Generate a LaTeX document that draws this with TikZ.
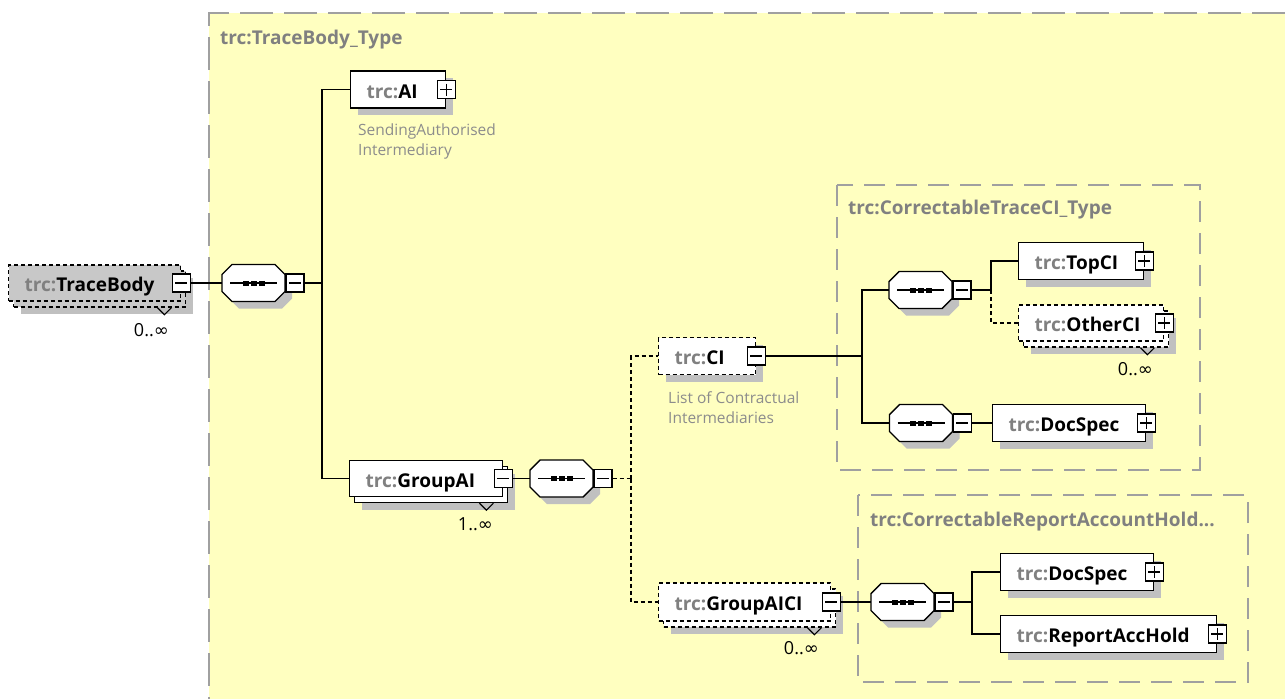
\documentclass[tikz,border=0pt]{standalone}
\usepackage{fontspec}
\setmainfont{Open Sans}
\newfontfamily\symfont{DejaVu Sans}
\usetikzlibrary{shadows}

\definecolor{bgyellow}{RGB}{255,255,192}
\definecolor{framegray}{RGB}{160,160,160}
\definecolor{pfxgray}{RGB}{128,128,128}
\definecolor{notegray}{RGB}{140,140,140}
\definecolor{shadegray}{RGB}{192,192,192}
\definecolor{optgray}{RGB}{200,200,200}

\newcommand\trc{\textcolor{pfxgray}{trc:}}
\newcommand\unb{{\symfont ∞}}

\tikzset{
  elem/.style={draw, line width=1.4pt, fill=white, anchor=west, minimum height=37pt,
    inner xsep=16pt, inner ysep=0pt, align=left, text height=17pt, text depth=0pt,
    font=\fontsize{19}{22}\selectfont\bfseries},
  single/.style={general shadow={shadow xshift=7pt, shadow yshift=-7pt, fill=shadegray, draw=none}},
  stacked/.style={general shadow={shadow xshift=12pt, shadow yshift=-13pt, fill=shadegray, draw=none},
    general shadow={shadow xshift=5pt, shadow yshift=-6pt, fill=#1, draw=black}},
  stacked/.default=white,
  optional/.style={dash pattern=on 4pt off 3pt},
  xbox/.style={draw, line width=1.4pt, fill=white, minimum size=18pt, inner sep=0pt},
  minusbox/.style={xbox, path picture={
    \draw[black, line width=1.2pt] ([xshift=3pt]path picture bounding box.west) -- ([xshift=-3pt]path picture bounding box.east);}},
  plusbox/.style={xbox, path picture={
    \draw[black, line width=1.2pt] ([xshift=3pt]path picture bounding box.west) -- ([xshift=-3pt]path picture bounding box.east);
    \draw[black, line width=1.2pt] ([yshift=-3pt]path picture bounding box.north) -- ([yshift=3pt]path picture bounding box.south);}},
  seq/.pic={
    \fill[shadegray, xshift=7pt, yshift=-7pt] (-31.5,-8.5) -- (-21.5,-18.5) -- (21.5,-18.5) -- (31.5,-8.5)
      -- (31.5,8.5) -- (21.5,18.5) -- (-21.5,18.5) -- (-31.5,8.5) -- cycle;
    \draw[fill=white, line width=1.4pt] (-31.5,-8.5) -- (-21.5,-18.5) -- (21.5,-18.5) -- (31.5,-8.5)
      -- (31.5,8.5) -- (21.5,18.5) -- (-21.5,18.5) -- (-31.5,8.5) -- cycle;
    \draw[line width=1.1pt] (-23.5,0) -- (23.5,0);
    \foreach \d in {-8,0,8}
      \fill (\d-3,-2.5) rectangle (\d+3,2.5);
    \node[minimum width=63pt, minimum height=37pt, inner sep=0pt] (-n) {};
  },
  conn/.style={draw, line width=1.3pt},
  optconn/.style={conn, dash pattern=on 4pt off 3pt},
  frame/.style={draw=framegray, line width=1.5pt, dash pattern=on 21pt off 11pt},
  framelabel/.style={anchor=west, inner sep=0pt, text=pfxgray, font=\fontsize{19}{22}\selectfont\bfseries},
  note/.style={anchor=north west, inner sep=0pt, align=left, text=notegray,
    font=\fontsize{15.5}{20}\selectfont},
  card/.style={inner sep=0pt, font=\fontsize{18}{20}\selectfont},
  notch/.style={draw, line width=1.2pt}
}

\begin{document}
\begin{tikzpicture}[x=1pt, y=-1pt]
  \useasboundingbox (0,0) rectangle (1285,699);

  % type areas
  \fill[bgyellow] (209,13) rectangle (1285,699);
  \draw[frame, dash pattern=on 33pt off 11pt, line width=2pt] (1285,13) -- (209,13) -- (209,699);
  \node[framelabel] (lbl-body) at (220,40) {trc:TraceBody\_Type};
  \draw[frame] (837,185) rectangle (1200,470);
  \node[framelabel] (lbl-ci) at (848,210) {trc:CorrectableTraceCI\_Type};
  \draw[frame] (858,495) rectangle (1248,682);
  \node[framelabel] (lbl-rah) at (870,522) {trc:CorrectableReportAccountHold...};

  % root element
  \node[elem, optional, fill=optgray, stacked=optgray, text width=140pt, minimum height=36pt] (tb) at (8,283) {\trc TraceBody};
  \node[minusbox] (tb-x) at (tb.east) {};
  \draw[notch] ([xshift=-24pt,yshift=-6pt]tb.south east) -- ++(7,7) -- ++(7,-7);
  \node[card] (tb-card) at ([xshift=-30pt,yshift=-28pt]tb.south east) {0..\unb};

  \pic (seq1) at (253.5,283) {seq};
  \node[minusbox, anchor=west] (s1-x) at (seq1-n.east) {};

  % children of TraceBody
  \node[elem, single, text width=63pt] (ai) at (350,89.5) {\trc AI};
  \node[plusbox] (ai-x) at (ai.east) {};
  \node[note] (ai-note) at (358,124) {SendingAuthorised\\Intermediary};

  \node[elem, stacked, text width=121pt, minimum height=36pt] (gai) at (349,478.5) {\trc GroupAI};
  \node[minusbox] (gai-x) at (gai.east) {};
  \draw[notch] ([xshift=-24pt,yshift=-6pt]gai.south east) -- ++(7,7) -- ++(7,-7);
  \node[card] (gai-card) at ([xshift=-28pt,yshift=-27pt]gai.south east) {1..\unb};

  \pic (seq2) at (561.5,478.5) {seq};
  \node[minusbox, anchor=west] (s2-x) at (seq2-n.east) {};

  % children of GroupAI
  \node[elem, optional, single, text width=65pt] (ci) at (658,356) {\trc CI};
  \node[minusbox] (ci-x) at (ci.east) {};
  \node[note] (ci-note) at (668,391) {List of Contractual\\Intermediaries};

  \node[elem, optional, stacked, text width=140pt, minimum height=38pt] (gaici) at (658,602) {\trc GroupAICI};
  \node[minusbox] (gaici-x) at (gaici.east) {};
  \draw[notch] ([xshift=-24pt,yshift=-6pt]gaici.south east) -- ++(7,7) -- ++(7,-7);
  \node[card] (gaici-card) at ([xshift=-30pt,yshift=-26pt]gaici.south east) {0..\unb};

  % CorrectableTraceCI_Type
  \pic (seq3) at (920.5,290) {seq};
  \node[minusbox, anchor=west] (s3-x) at (seq3-n.east) {};
  \node[elem, single, text width=93pt] (top) at (1018,261) {\trc TopCI};
  \node[plusbox] (top-x) at (top.east) {};
  \node[elem, optional, stacked, text width=113pt, minimum height=36pt] (oth) at (1018,323) {\trc OtherCI};
  \node[plusbox] (oth-x) at (oth.east) {};
  \draw[notch] ([xshift=-24pt,yshift=-6pt]oth.south east) -- ++(7,7) -- ++(7,-7);
  \node[card] (oth-card) at ([xshift=-29pt,yshift=-27pt]oth.south east) {0..\unb};

  \pic (seq5) at (921,423) {seq};
  \node[minusbox, anchor=west] (s5-x) at (seq5-n.east) {};
  \node[elem, single, text width=121pt] (ds1) at (992,423) {\trc DocSpec};
  \node[plusbox] (ds1-x) at (ds1.east) {};

  % CorrectableReportAccountHold
  \pic (seq4) at (902.5,602) {seq};
  \node[minusbox, anchor=west] (s4-x) at (seq4-n.east) {};
  \node[elem, single, text width=121pt] (ds2) at (1000,572) {\trc DocSpec};
  \node[plusbox] (ds2-x) at (ds2.east) {};
  \node[elem, single, text width=184pt] (rah) at (1000,634) {\trc ReportAccHold};
  \node[plusbox] (rah-x) at (rah.east) {};

  % bus points
  \coordinate (bus1) at (322,283);
  \coordinate (bus2) at (631,478.5);
  \coordinate (bus3) at (862,356);
  \coordinate (bus3b) at (991,290);
  \coordinate (bus4) at (972,602);

  % connectors
  \draw[conn] (tb-x.east) -- (seq1-n.west);
  \draw[conn] (s1-x.east) -- (bus1);
  \draw[conn] (bus1) |- (ai.west);
  \draw[conn] (bus1) |- (gai.west);
  \draw[conn] (gai-x.east) -- (seq2-n.west);
  \draw[optconn] (s2-x.east) -- (bus2);
  \draw[optconn] (bus2) |- (ci.west);
  \draw[optconn] (bus2) |- (gaici.west);
  \draw[conn] (ci-x.east) -- (bus3);
  \draw[conn] (bus3) |- (seq3-n.west);
  \draw[conn] (bus3) |- (seq5-n.west);
  \draw[conn] (s3-x.east) -- (bus3b);
  \draw[conn] (bus3b) |- (top.west);
  \draw[optconn] (bus3b) |- (oth.west);
  \draw[conn] (s5-x.east) -- (ds1.west);
  \draw[conn] (gaici-x.east) -- (seq4-n.west);
  \draw[conn] (s4-x.east) -- (bus4);
  \draw[conn] (bus4) |- (ds2.west);
  \draw[conn] (bus4) |- (rah.west);
\end{tikzpicture}
\end{document}
